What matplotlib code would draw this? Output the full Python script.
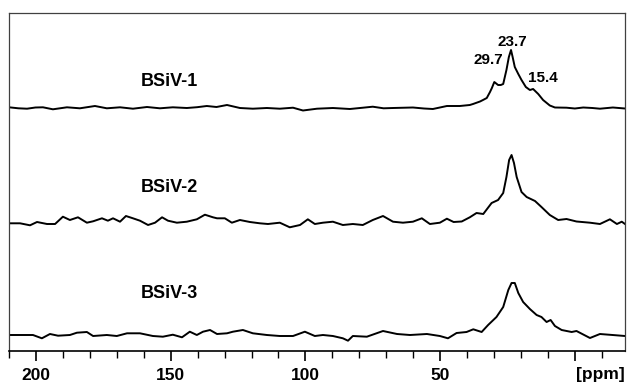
import matplotlib.pyplot as plt
from matplotlib.ticker import MultipleLocator

# chemical shift (ppm) and intensity
ppm1 = [210, 206.5, 203.3, 200.2, 197.4, 193.7, 188.5, 183.7, 178.1, 173.7, 168.8, 164,
        158.8, 154, 149.2, 144, 140.2, 136.6, 133, 129.1, 124.3, 119.5, 114.3, 109.5,
        104.6, 100.9, 95.7, 89.8, 83.5, 79, 75, 71, 67.5, 60.1, 56, 52.7, 47.5, 42.7,
        39, 37.8, 35.2, 34.1, 32.7, 31.5, 30.8, 29.9, 28.5, 27.5, 26.6, 25.4, 24.5,
        23.7, 23.1, 22.3, 21.0, 19.8, 18.2, 16.7, 15.5, 13.6, 11.8, 9.3, 7.4, 3.1,
        0, -3.1, -6.5, -9.3, -14.1, -18.6]
int1 = [0.7, -0.3, -0.7, 0.5, 0.7, -1.3, 0.7, -0.3, 2, -0.3, 0.7, -0.7,
        1, -0.3, 0.7, 0, 0.8, 2, 1, 3, 0, -0.7, 0, -0.7,
        0.3, -2.5, -0.7, 0, -1, 0.2, 1.3, -0.3, 0, 0.5, -0.5, -1, 2, 2,
        3, 4, 6.5, 8, 10, 16, 20, 26, 23, 23, 24, 38, 51,
        58, 51, 41, 34, 28, 21, 18, 19, 14, 8, 2.5, 0.5, 0.3,
        -0.5, 0.5, 0, -0.7, 0.5, -0.5]

ppm2 = [209.6, 205.9, 202.2, 199.6, 195.9, 192.9, 190, 187.4, 184.4, 181.1, 178.8,
        175.5, 173.3, 171.4, 168.8, 166.6, 164, 161.4, 158.4, 155.8, 153.2, 151,
        147.7, 144, 140.3, 137.3, 134.3, 132.8, 129.9, 127.3, 124.3, 120.6, 116.9,
        113.9, 109.5, 105.8, 102, 99.1, 96.5, 93.5, 89.8, 86.1, 82.4, 78.7, 75,
        71.2, 67.5, 63.8, 60.1, 56.8, 53.8, 50.1, 47.5, 45, 42, 39, 36.5, 34,
        30.9, 28.5, 26.6, 25.4, 24.4, 23.5, 22.6, 21.6, 19.8, 17.9, 14.8, 12.4,
        9.3, 6.2, 3.1, -0.6, -5.6, -9.3, -13, -15.6, -17.4, -18.6]
int2 = [-1.3, -1.3, -3.3, 0, -2, -2, 5.3, 2, 4.7, -0.7, 0.7,
        3.7, 1.3, 3.7, 0.3, 6, 3.7, 1.3, -3, -0.7, 4.7, 1.3,
        -0.7, 0.3, 2.7, 7.3, 4.7, 3.7, 3.7, -0.7, 2, 0, -1.3,
        -2, -0.7, -5.3, -3, 2.7, -2, -0.7, 0.3, -3, -2, -3, 2,
        6, 0.3, -0.7, 0.3, 3.7, -2, -0.7, 3.3, 0, 0.5, 4.7, 9, 8,
        19, 22, 29, 45, 62, 67, 59, 45, 30, 25, 21, 15,
        7, 2, 3, 0.5, -0.7, -2, 2.7, -2, 0.3, -2]

ppm3 = [209.6, 204.8, 201.1, 197.8, 194.8, 191.8, 187.4, 184.8, 181.1, 178.8, 173.7,
        170, 166.2, 161.4, 156.6, 152.9, 149.2, 145.8, 142.9, 140.3, 138, 135.4,
        132.8, 129.1, 126.9, 123.2, 119.5, 114.3, 109.5, 104.6, 100.2, 96.5, 93.5,
        89.8, 86.1, 84.2, 82.4, 77.2, 71.2, 66, 61.2, 54.9, 50.1, 47.1, 43.9, 40.2,
        37.7, 34.6, 32.2, 29.1, 26.6, 24.7, 23.5, 22.3, 21.0, 19.2, 16.7, 14.2,
        12.4, 10.5, 9.0, 7.4, 4.9, 1.2, -0.6, -5.6, -9.3, -14, -18.6]
int3 = [0, 0, 0, -3.3, 1, -0.7, 0, 2.3, 3, -1, 0,
        -1, 1.7, 1.7, -1, -1.7, 0.3, -2.3, 3.3, 0, 3.3, 5,
        1, 1.7, 3.3, 5, 1.7, 0, -1, -1, 3.3, -1, 0,
        -1, -3.3, -5.7, -1, -1.7, 4, 1, 0, 1, -1, -3.3, 2, 3,
        5.7, 3, 10, 18, 28, 45, 52, 52, 42, 33, 26, 20,
        18, 13, 15, 9, 5, 3, 4, -3, 1, 0, -1]

names = ["BSiV-1", "BSiV-2", "BSiV-3"]
peak_labels = ["29.7", "23.7", "15.4"]

plt.rcParams['font.family'] = ['Liberation Sans', 'DejaVu Sans']
plt.rcParams['font.weight'] = 'bold'

fig = plt.figure(figsize=(6.29, 3.86), dpi=100)
ax = fig.add_axes([9/629, 35/386, 616/629, 338/386])

offsets = [278, 164, 51]
label_y = [305, 198, 92]
for (x, y), off, name, ly in zip([(ppm1, int1), (ppm2, int2), (ppm3, int3)], offsets, names, label_y):
    ax.plot(x, [v + off for v in y], color='black', lw=1.4, solid_joinstyle='round')
    ax.text(150.3, ly, name, ha='center', va='center', fontsize=13, fontweight='bold')

# peak assignments on the top spectrum
ax.text(32.3, 326, peak_labels[0], ha='center', va='center', fontsize=11, fontweight='bold')
ax.text(23.4, 344, peak_labels[1], ha='center', va='center', fontsize=11, fontweight='bold')
ax.text(11.9, 308, peak_labels[2], ha='center', va='center', fontsize=11, fontweight='bold')

ax.set_xlim(210, -18.6)
ax.set_ylim(35, 373)
ax.set_yticks([])
ax.xaxis.set_minor_locator(MultipleLocator(10))
ax.set_xticks([200, 150, 100, 50, 0])
ax.set_xticklabels(['200', '150', '100', '50', ''])
ax.tick_params(axis='x', which='major', direction='out', length=7.5, width=1.2,
               pad=4.5, labelsize=12.5, colors='black')
ax.tick_params(axis='x', which='minor', direction='out', length=5, width=1.0)
for s in ax.spines.values():
    s.set_color('#404040')
    s.set_linewidth(0.9)
ax.spines['bottom'].set_color('black')
ax.spines['bottom'].set_linewidth(1.2)

fig.text(600/629, 1 - 375/386, "[ppm]", ha='center', va='center', fontsize=12.5, fontweight='bold')

fig.savefig("out.png", dpi=100)
